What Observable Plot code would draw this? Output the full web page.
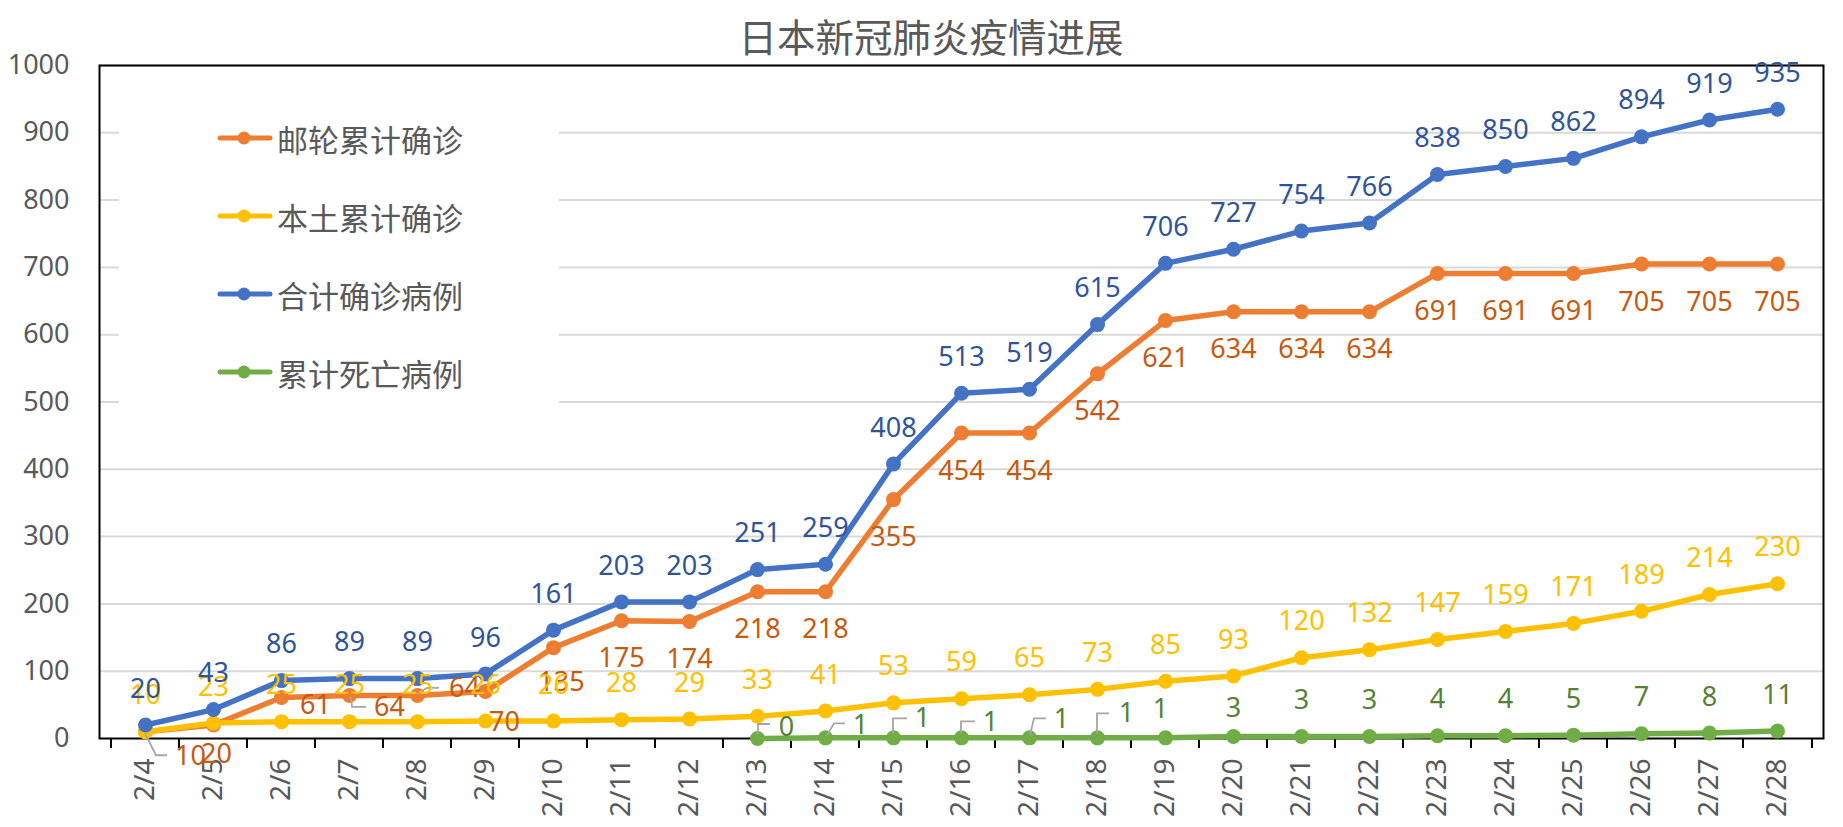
<!DOCTYPE html>
<html>
<head>
<meta charset="utf-8">
<script src="https://cdn.jsdelivr.net/npm/d3@7"></script>
<script src="https://cdn.jsdelivr.net/npm/@observablehq/plot@0.6"></script>
<style>
  body { margin: 0; background: #fff; overflow: hidden; font-family: "Noto Sans", "Noto Sans CJK SC", sans-serif; }
  #wrap { position: relative; width: 1843px; height: 827px; }
  #title { box-sizing: border-box; width: 1843px; height: 56px; padding-left: 19px; padding-top: 15px; text-align: center;
           font-family: "Noto Sans CJK SC", sans-serif; font-size: 38.5px; line-height: 40px; color: #595959; }
  #legend { position: absolute; left: 119px; top: 95px; width: 440px; height: 315px; background: #fff; }
  .item { position: absolute; left: 98px; height: 40px; display: flex; align-items: center;
          font-family: "Noto Sans CJK SC", sans-serif; font-size: 31px; color: #595959; white-space: nowrap; }
  .item svg { margin-right: 4px; }
</style>
</head>
<body>
<div id="wrap">
  <div id="title"></div>
  <div id="chart"></div>
  <div id="legend"></div>
</div>
<script>
// ---- data ----
const titleText = "日本新冠肺炎疫情进展";
const dates = ["2/4","2/5","2/6","2/7","2/8","2/9","2/10","2/11","2/12","2/13","2/14","2/15","2/16",
               "2/17","2/18","2/19","2/20","2/21","2/22","2/23","2/24","2/25","2/26","2/27","2/28"];
const cruise   = [10,20,61,64,64,70,135,175,174,218,218,355,454,454,542,621,634,634,634,691,691,691,705,705,705];
const domestic = [10,23,25,25,25,26,26,28,29,33,41,53,59,65,73,85,93,120,132,147,159,171,189,214,230];
const total    = [20,43,86,89,89,96,161,203,203,251,259,408,513,519,615,706,727,754,766,838,850,862,894,919,935];
const deathDates = ["2/13","2/14","2/15","2/16","2/17","2/18","2/19","2/20","2/21","2/22","2/23","2/24","2/25","2/26","2/27","2/28"];
const deaths     = [0,1,1,1,1,1,1,3,3,3,4,4,5,7,8,11];
const yTicks = [0,100,200,300,400,500,600,700,800,900,1000];
const seriesNames = ["邮轮累计确诊","本土累计确诊","合计确诊病例","累计死亡病例"];

// ---- styling / layout ----
const lineColors  = ["#ED7D31","#FFC000","#4472C4","#70AD47"];
const labelColors = ["#C55A11","#FFC000","#2F5597","#548235"];
const W = 1843, H = 771, mt = 9, mr = 20, mb = 89, ml = 99;
const step = (W - ml - mr) / dates.length;
const tickUnits = 10 * 1000 / (H - mt - mb);

// label placement overrides (pixel offsets, leader path relative to point)
const orangeSpecial = {
  "2/4": {dx: 45, dy: 25, leader: [[0,2],[11,24],[22,24]]},
  "2/5": {dx: 3, dy: 29},
  "2/6": {dx: 34, dy: 8},
  "2/7": {dx: 40, dy: 12, leader: [[2,2],[3,12],[17,12]]},
  "2/8": {dx: 47, dy: -7, leader: [[0,-1],[10,-7],[22,-7]]},
  "2/9": {dx: 19, dy: 31},
  "2/10": {dx: 8, dy: 35}
};
const greenSpecial = {
  "2/13": {dx: 29, dy: -11, leader: [[1,-4],[1,-14],[13,-14]]},
  "2/14": {dx: 35, dy: -12, leader: [[2,-2],[9,-14],[20,-14]]},
  "2/15": {dx: 29, dy: -19, leader: [[0,-4],[0,-19],[14,-19]]},
  "2/16": {dx: 29, dy: -15, leader: [[0,-4],[0,-16],[14,-16]]},
  "2/17": {dx: 32, dy: -18, leader: [[1,-2],[5,-19],[17,-19]]},
  "2/18": {dx: 29, dy: -24, leader: [[0,-4],[0,-24],[12,-24]]},
  "2/19": {dx: -5, dy: -28},
  "2/20": {dx: 0, dy: -28}
};

const rowsOf = (ds, vs) => ds.map((d, i) => ({date: d, value: vs[i]}));
const cruiseRows = rowsOf(dates, cruise);
const domesticRows = rowsOf(dates, domestic);
const totalRows = rowsOf(dates, total);
const deathRows = rowsOf(deathDates, deaths);
const allSeries = [cruiseRows, domesticRows, totalRows, deathRows];

function labelMarks(rows, color, defDy, special = {}) {
  const marks = [];
  const common = {x: "date", y: "value", text: d => String(d.value), fill: color, fontSize: 27};
  marks.push(Plot.text(rows.filter(r => !special[r.date]), {...common, dy: defDy}));
  for (const r of rows) {
    const s = special[r.date];
    if (s) marks.push(Plot.text([r], {...common, dx: s.dx, dy: s.dy}));
  }
  return marks;
}

function leaderMark(rows, special) {
  return (index, scales) => {
    const g = d3.create("svg:g").attr("fill", "none").attr("stroke", "#a6a6a6").attr("stroke-width", 1.8);
    for (const r of rows) {
      const s = special[r.date];
      if (!s || !s.leader) continue;
      const px = scales.x(r.date), py = scales.y(r.value);
      g.append("path").attr("d", "M" + s.leader.map(([a, b]) => `${px + a},${py + b}`).join("L"));
    }
    return g.node();
  };
}

const marks = [
  Plot.ruleY(yTicks.slice(1), {y: d => d, stroke: "#d9d9d9", strokeWidth: 2}),
  Plot.frame({stroke: "black", strokeWidth: 2}),
  Plot.ruleX(dates, {x: d => d, dx: -step / 2, y1: 0, y2: -tickUnits, stroke: "black", strokeWidth: 2}),
  Plot.ruleX(dates.slice(-1), {x: d => d, dx: step / 2, y1: 0, y2: -tickUnits, stroke: "black", strokeWidth: 2})
];
allSeries.forEach((rows, i) => {
  marks.push(Plot.line(rows, {x: "date", y: "value", stroke: lineColors[i], strokeWidth: 5.5, strokeLinejoin: "round", strokeLinecap: "round"}));
  marks.push(Plot.dot(rows, {x: "date", y: "value", r: 7.5, fill: lineColors[i], stroke: "none"}));
});
marks.push(leaderMark(cruiseRows, orangeSpecial));
marks.push(leaderMark(deathRows, greenSpecial));
marks.push(...labelMarks(cruiseRows, labelColors[0], 38, orangeSpecial));
marks.push(...labelMarks(domesticRows, labelColors[1], -36));
marks.push(...labelMarks(totalRows, labelColors[2], -36));
marks.push(...labelMarks(deathRows, labelColors[3], -36, greenSpecial));

const chart = Plot.plot({
  width: W, height: H,
  marginTop: mt, marginRight: mr, marginBottom: mb, marginLeft: ml,
  style: {fontSize: "27px", fontFamily: "'Noto Sans', 'Noto Sans CJK SC', sans-serif", color: "#595959", background: "white", overflow: "visible"},
  x: {type: "point", domain: dates, padding: 0.5, tickSize: 0, tickPadding: 20, tickRotate: -90, label: null},
  y: {domain: [0, 1000], ticks: yTicks, tickSize: 0, tickPadding: 30, tickFormat: d => String(d), label: null},
  marks
});
d3.select(chart).selectAll('g[aria-label^="x-axis"] text').attr("font-size", 28);
document.getElementById("chart").appendChild(chart);

document.getElementById("title").textContent = titleText;
const legend = d3.select("#legend");
seriesNames.forEach((name, i) => {
  const item = legend.append("div").attr("class", "item").style("top", (23 + 78 * i) + "px");
  const sw = item.append("svg").attr("width", 56).attr("height", 16);
  sw.append("line").attr("x1", 3).attr("x2", 53).attr("y1", 8).attr("y2", 8)
    .attr("stroke", lineColors[i]).attr("stroke-width", 5).attr("stroke-linecap", "round");
  sw.append("circle").attr("cx", 27).attr("cy", 8).attr("r", 6.5).attr("fill", lineColors[i]);
  item.append("span").text(name);
});
</script>
</body>
</html>
